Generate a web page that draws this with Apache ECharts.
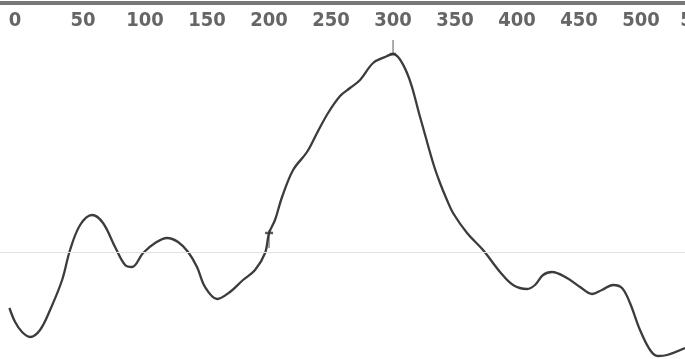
<!DOCTYPE html>
<html>
<head>
<meta charset="utf-8">
<script src="https://cdn.jsdelivr.net/npm/echarts@6/dist/echarts.min.js"></script>
<style>
html,body{margin:0;padding:0;background:#fff;}
#chart{width:685px;height:359px;}
</style>
</head>
<body>
<div id="chart"></div>
<script>
// x positions (axis units) and signal values
var xValues = [-9.4,-4.8,0.8,7.3,15.3,23.4,33.1,39.5,47.6,57.3,66.1,75.8,83.9,89.5,98.4,108.1,117.7,126.6,134.7,141.9,148.4,158.1,168.5,179,188.7,196.8,200,204.8,210.5,219.4,230.6,238.7,247.6,257.3,265.3,273.4,283.9,293.5,300,311.3,321.8,332.3,337.9,343.5,348.4,359.7,372.6,386.3,396.8,408.1,414.5,421,428.2,440.3,450.8,460.5,468.5,477.4,484.7,491.1,499.2,507.3,513.7,521,535.5];
var yValues = [51,37,27,22,29,49,79,109,134,144,136,112,94,92,106,116,121,117,107,92,72,60,67,79,89,106,126,139,162,189,207,226,246,263,271,279,296,302,305,286,242,196,176,159,146,126,109,87,74,70,74,84,87,81,72,65,69,74,71,56,29,9,3,4,11];
var tickLabels = [0,50,100,150,200,250,300,350,400,450,500,550];
var markerX = [200, 300];
var referenceLevel = [107];

var lineData = xValues.map(function(x, i){ return [x, yValues[i]]; });

var markerStyles = [
  {symbol:'path://M4,0 L4,18 M0,3 L8,3', symbolSize:[8,18], symbolOffset:[0,6]},
  {symbol:'path://M3,0 L3,15 M0,14 L6,14', symbolSize:[6,15], symbolOffset:[0,-6.5]}
];
var markerData = markerX.map(function(mx, i){
  var idx = xValues.indexOf(mx);
  var s = markerStyles[i];
  return {value:[mx, yValues[idx]], symbol:s.symbol, symbolSize:s.symbolSize, symbolOffset:s.symbolOffset};
});

var FONT = 'DejaVu Sans Condensed, DejaVu Sans, sans-serif';
var labelRich = {fontFamily:FONT, fontWeight:'bold', fontSize:20, color:'#666'};
var chart = echarts.init(document.getElementById('chart'), null, {renderer:'canvas'});
chart.setOption({
  backgroundColor:'#ffffff',
  animation:false,
  grid:{left:0, right:-18, top:3, bottom:0, containLabel:false, outerBoundsMode:'none'},
  xAxis:{
    type:'value', position:'top', min:-17, max:550,
    axisLine:{show:true, onZero:false, lineStyle:{color:'#777', width:4}},
    axisTick:{show:false},
    splitLine:{show:false},
    axisLabel:{
      show:true, inside:true, margin:8,
      customValues:tickLabels,
      fontFamily:FONT, fontWeight:'bold',
      fontSize:20, color:'#666',
      showMinLabel:true, showMaxLabel:true, hideOverlap:false,
      formatter:function(v){
        if (v === 0) return '{z|0}';
        if (v === 550) return '{e|550}';
        return String(v);
      },
      rich:{
        z:Object.assign({padding:[0,12,0,0]}, labelRich),
        e:Object.assign({padding:[0,8,0,0]}, labelRich)
      }
    }
  },
  yAxis:{
    type:'value', min:0, max:356, show:false,
    splitLine:{show:false}
  },
  series:[
    {
      type:'line', data:lineData, smooth:0.35, symbol:'none',
      lineStyle:{color:'#3c3c3c', width:2.3},
      markLine:{
        silent:true, symbol:['none','none'], label:{show:false},
        lineStyle:{color:'#e2e2e2', width:1.2, type:'solid'},
        data: referenceLevel.map(function(v){ return {yAxis:v}; })
      },
      z:3
    },
    {
      type:'scatter', data:markerData,
      itemStyle:{color:'none', borderColor:'#333', borderWidth:1.6},
      z:4
    }
  ]
});
</script>
</body>
</html>
